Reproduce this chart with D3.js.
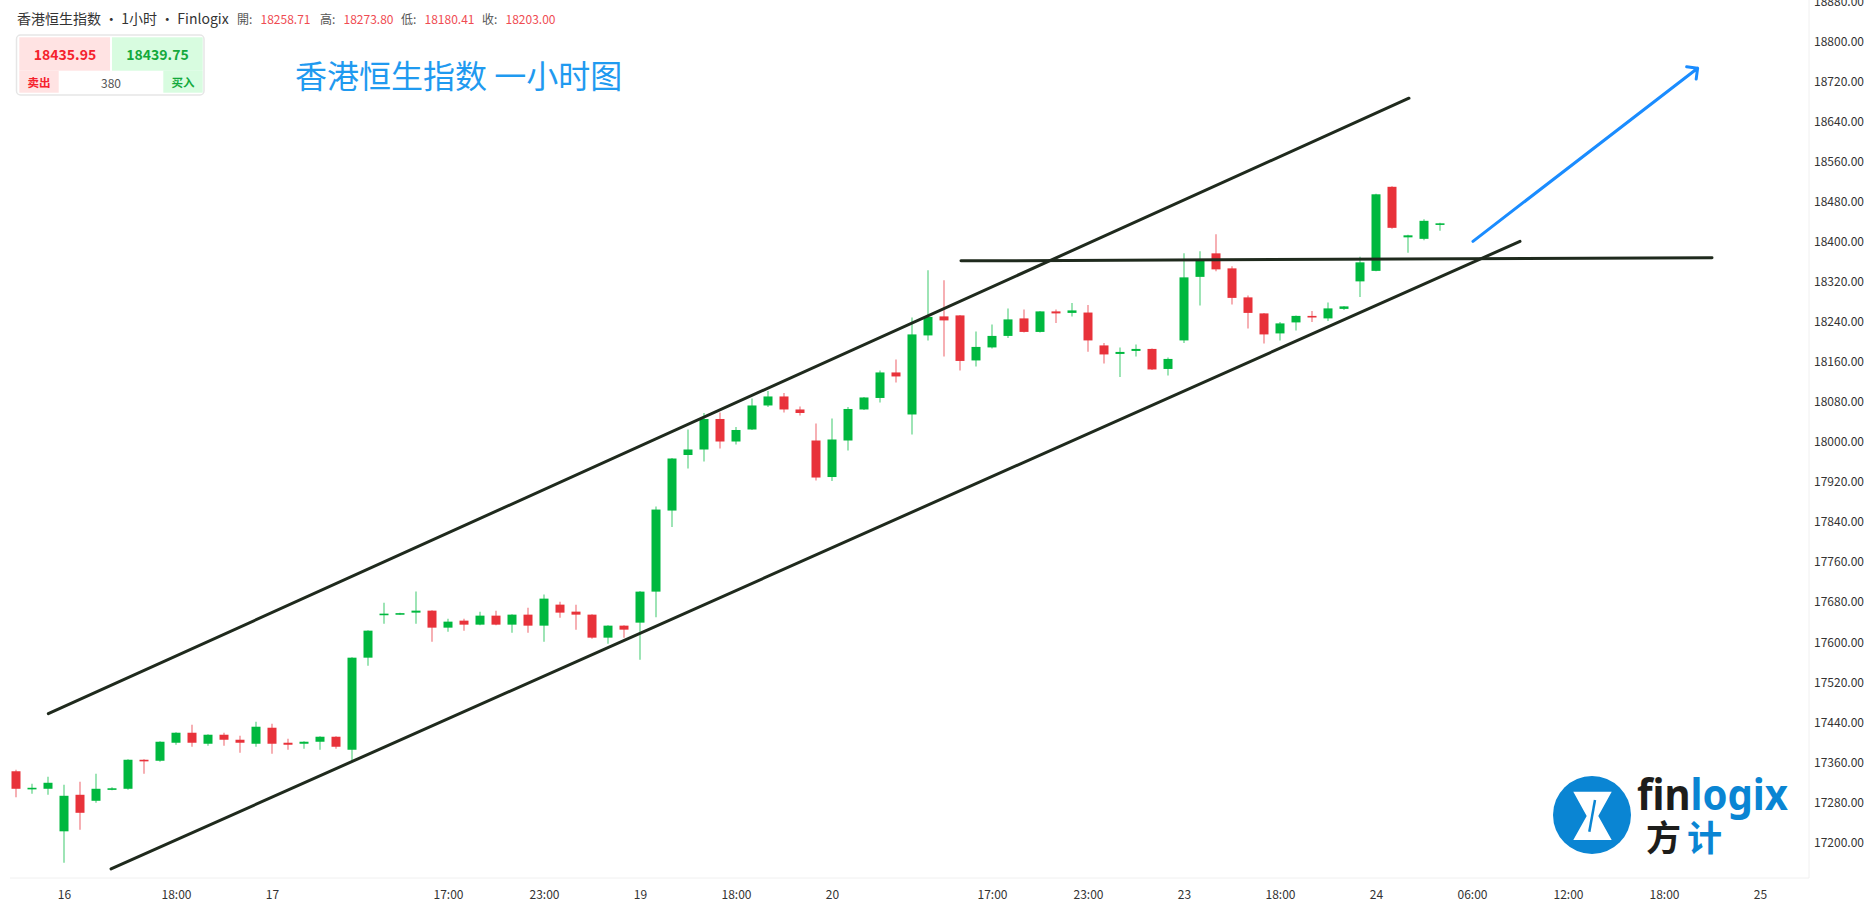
<!DOCTYPE html>
<html>
<head>
<meta charset="utf-8">
<script src="https://cdn.jsdelivr.net/npm/d3@7"></script>
<style>
  body { margin: 0; background: #fff; }
  text { font-family: "Noto Sans CJK SC", "Noto Sans", sans-serif; }
</style>
</head>
<body>
<div id="chart"></div>
<script>
// 1小时K线 (bar index 0..89)
const open = [17342,17306,17307,17222,17295,17283,17306,17307,17365,17363,
  17399,17419,17397,17415,17405,17397,17429,17399,17397,17401,
  17411,17385,17569,17655,17656,17659,17663,17629,17643,17635,
  17653,17635,17655,17633,17675,17661,17655,17609,17633,17639,
  17701,17863,17974,17985,18046,18001,18025,18073,18091,18065,
  18003,17930,18003,18065,18088,18139,18055,18213,18251,18253,
  18163,18189,18212,18247,18220,18261,18258,18258.71,18193,18176,
  18182,18186,18146,18203,18330,18377,18347,18289,18257,18217,
  18239,18252,18247,18266,18321,18342,18510,18409,18406,18434];
const high = [17345,17317,17331,17315,17321,17337,17310,17366,17366,17402,
  17420,17435,17416,17419,17413,17441,17437,17407,17402,17412,
  17412,17570,17624,17679,17659,17701,17664,17647,17647,17661,
  17663,17656,17669,17695,17681,17675,17656,17634,17634,17702,
  17871,17968,18025,18058,18059,18030,18087,18102,18098,18071,
  18037,18047,18070,18090,18143,18165,18249,18343,18323,18254,
  18221,18235,18267,18265,18262,18265,18278,18273.80,18198,18189,
  18195,18187,18169,18377,18381,18415,18351,18293,18258,18240,
  18253,18262,18279,18272,18370,18496,18511,18414,18445,18438];
const low = [17290,17297,17295,17159,17225,17279,17304,17305,17337,17361,
  17395,17391,17393,17393,17379,17391,17377,17385,17387,17385,
  17387,17363,17553,17637,17655,17637,17601,17621,17623,17634,
  17634,17619,17619,17601,17649,17625,17607,17597,17609,17565,
  17650,17830,17947,17961,17987,17995,18024,18070,18059,18053,
  17923,17922,17983,18064,18079,18119,18015,18203,18171,18143,
  18151,18187,18208,18219,18219,18238,18251,18180.41,18157,18130,
  18171,18144,18133,18198,18273,18341,18275,18227,18197,18203,
  18223,18240,18242,18264,18290,18341,18426,18378,18403,18422];
const close = [17307,17309,17319,17293,17259,17307,17308,17365,17363,17401,
  17419,17399,17415,17405,17399,17431,17397,17395,17401,17411,
  17391,17569,17623,17657,17658,17663,17629,17641,17635,17653,
  17635,17655,17633,17687,17659,17655,17609,17633,17625,17701,
  17865,17967,17985,18046,18001,18024,18073,18091,18065,18058,
  17929,18005,18066,18089,18139,18131,18215,18250,18243,18162,
  18190,18212,18245,18220,18261,18257,18263,18203.00,18175,18180,
  18186,18145,18166,18329,18363,18345,18288,18258,18215,18237,
  18252,18249,18267,18271,18359,18495,18428,18413,18442,18437];

const yTicks = d3.range(17200, 18881, 80);
const xTickIdx = [3, 10, 16, 27, 33, 39, 45, 51, 61, 67, 73, 79, 85, 91, 97, 103, 109];
const xTickLabels = ["16","18:00","17","17:00","23:00","19","18:00","20","17:00","23:00","23","18:00","24","06:00","12:00","18:00","25"];

// 画线 (bar index, price)
const channelUpper = [[2.02, 17457], [87.06, 18687]];
const channelLower = [[5.94, 17147], [94.0, 18401]];
const resistance = [[59.06, 18362], [106.0, 18368]];
const trendArrow = [[91.06, 18401], [105.1, 18747]];

const ohlcLabels = ["開:", "高:", "低:", "收:"];
const ohlcValues = ["18258.71", "18273.80", "18180.41", "18203.00"];
const bid = "18435.95", ask = "18439.75", spread = "380";

const width = 1872, height = 911;
const plot = { left: 10, right: 1809, top: 0, bottom: 878 };
const up = "#00b83f", down = "#e8323a";

const svg = d3.select("#chart").append("svg")
  .attr("width", width)
  .attr("height", height);

const x = d3.scaleLinear()
  .domain([-0.375, 112.0625])
  .range([plot.left, plot.right]);

const y = d3.scaleLinear()
  .domain([17128.7, 18883.3])
  .range([plot.bottom, plot.top]);

// 边框
svg.append("line")
  .attr("x1", plot.right).attr("x2", plot.right)
  .attr("y1", 0).attr("y2", plot.bottom)
  .attr("stroke", "#f0f0f0");
svg.append("line")
  .attr("x1", plot.left).attr("x2", plot.right)
  .attr("y1", plot.bottom).attr("y2", plot.bottom)
  .attr("stroke", "#f0f0f0");

const bars = d3.range(open.length).map(i => ({
  i, o: open[i], h: high[i], l: low[i], c: close[i]
}));

const g = svg.append("g");

g.selectAll("line.wick")
  .data(bars)
  .join("line")
  .attr("class", "wick")
  .attr("x1", d => x(d.i)).attr("x2", d => x(d.i))
  .attr("y1", d => y(d.h)).attr("y2", d => y(d.l))
  .attr("stroke", d => d.c >= d.o ? up : down)
  .attr("stroke-opacity", 0.55)
  .attr("stroke-width", 1.4);

g.selectAll("rect.body")
  .data(bars)
  .join("rect")
  .attr("class", "body")
  .attr("x", d => x(d.i) - 4.5)
  .attr("y", d => y(Math.max(d.o, d.c)))
  .attr("width", 9)
  .attr("height", d => Math.max(1.6, Math.abs(y(d.o) - y(d.c))))
  .attr("fill", d => d.c >= d.o ? up : down);

// 通道线
const drawLine = pts => svg.append("line")
  .attr("x1", x(pts[0][0])).attr("y1", y(pts[0][1]))
  .attr("x2", x(pts[1][0])).attr("y2", y(pts[1][1]))
  .attr("stroke", "#1f2a1d")
  .attr("stroke-width", 3)
  .attr("stroke-linecap", "round");

drawLine(channelUpper);
drawLine(channelLower);
drawLine(resistance);

// 蓝色箭头
const ax1 = x(trendArrow[0][0]), ay1 = y(trendArrow[0][1]);
const ax2 = x(trendArrow[1][0]), ay2 = y(trendArrow[1][1]);
const ang = Math.atan2(ay2 - ay1, ax2 - ax1);
const head = 11, spreadA = Math.PI / 4;
svg.append("path")
  .attr("d", `M${ax1},${ay1}L${ax2},${ay2}` +
    `M${ax2 + head * Math.cos(ang + Math.PI - spreadA)},${ay2 + head * Math.sin(ang + Math.PI - spreadA)}` +
    `L${ax2},${ay2}` +
    `L${ax2 + head * Math.cos(ang + Math.PI + spreadA)},${ay2 + head * Math.sin(ang + Math.PI + spreadA)}`)
  .attr("fill", "none")
  .attr("stroke", "#1a8cff")
  .attr("stroke-width", 3)
  .attr("stroke-linecap", "round")
  .attr("stroke-linejoin", "round");

// y轴
const yAxis = svg.append("g")
  .attr("transform", `translate(${plot.right},0)`)
  .call(d3.axisRight(y).tickValues(yTicks).tickFormat(d3.format(".2f")).tickSize(0).tickPadding(5));
yAxis.select(".domain").remove();
yAxis.selectAll("text")
  .attr("fill", "#333")
  .style("font-size", "12px")
  .style("font-family", "'Noto Sans CJK SC', 'Noto Sans', sans-serif");

// x轴
const xAxis = svg.append("g")
  .attr("transform", `translate(0,${plot.bottom})`)
  .call(d3.axisBottom(x).tickValues(xTickIdx)
    .tickFormat((d, k) => xTickLabels[k]).tickSize(0).tickPadding(12));
xAxis.select(".domain").remove();
xAxis.selectAll("text")
  .attr("fill", "#333")
  .style("font-size", "12px")
  .style("font-family", "'Noto Sans CJK SC', 'Noto Sans', sans-serif");

// 标题栏
svg.append("text")
  .attr("x", 17).attr("y", 24)
  .attr("fill", "#333")
  .style("font-size", "14px")
  .text("香港恒生指数 · 1小时 · Finlogix");

const ohlcX = [237, 320, 401, 482];
ohlcLabels.forEach((lab, k) => {
  svg.append("text")
    .attr("x", ohlcX[k]).attr("y", 23.5)
    .attr("fill", "#555")
    .style("font-size", "12px")
    .text(lab);
  svg.append("text")
    .attr("x", ohlcX[k] + 23.5).attr("y", 23.5)
    .attr("fill", "#ef4b52")
    .style("font-size", "12px")
    .text(ohlcValues[k]);
});

// 报价框
const box = svg.append("g");
box.append("rect")
  .attr("x", 16.5).attr("y", 35).attr("width", 187.5).attr("height", 60)
  .attr("rx", 4)
  .attr("fill", "#fff")
  .attr("stroke", "#e6e6e6")
  .attr("stroke-width", 1.5);
box.append("rect").attr("x", 19.3).attr("y", 37.3).attr("width", 90.7).attr("height", 33.4).attr("fill", "#ffe3e3");
box.append("rect").attr("x", 112).attr("y", 37.3).attr("width", 90.7).attr("height", 33.4).attr("fill", "#d8fce0");
box.append("rect").attr("x", 19.3).attr("y", 70.7).attr("width", 39.4).attr("height", 22).attr("fill", "#ffe3e3");
box.append("rect").attr("x", 163.3).attr("y", 70.7).attr("width", 39.4).attr("height", 22).attr("fill", "#d8fce0");

box.append("text").attr("x", 65).attr("y", 54).attr("text-anchor", "middle").attr("dominant-baseline", "central")
  .attr("fill", "#f5222d").style("font-size", "14px").style("font-weight", "bold").text(bid);
box.append("text").attr("x", 157.5).attr("y", 54).attr("text-anchor", "middle").attr("dominant-baseline", "central")
  .attr("fill", "#13a93c").style("font-size", "14px").style("font-weight", "bold").text(ask);
box.append("text").attr("x", 39).attr("y", 82).attr("text-anchor", "middle").attr("dominant-baseline", "central")
  .attr("fill", "#f5222d").style("font-size", "11.5px").style("font-weight", "bold").text("卖出");
box.append("text").attr("x", 111).attr("y", 82).attr("text-anchor", "middle").attr("dominant-baseline", "central")
  .attr("fill", "#555").style("font-size", "12px").text(spread);
box.append("text").attr("x", 183).attr("y", 82).attr("text-anchor", "middle").attr("dominant-baseline", "central")
  .attr("fill", "#13a93c").style("font-size", "11.5px").style("font-weight", "bold").text("买入");

// 大标题
svg.append("text")
  .attr("x", 295).attr("y", 74)
  .attr("dominant-baseline", "central")
  .attr("fill", "#1f9af0")
  .style("font-size", "32px")
  .text("香港恒生指数 一小时图");

// logo
const logo = svg.append("g").attr("transform", "translate(1592,815)");
logo.append("circle").attr("r", 39).attr("fill", "#0a85d3");
logo.append("path")
  .attr("d", "M-18.7,-23.3L19.7,-23.3L6.3,1L19.7,25L-18.7,25L-5.3,1Z")
  .attr("fill", "#fff");
logo.append("line")
  .attr("x1", 3).attr("y1", -15).attr("x2", -2.7).attr("y2", 16.7)
  .attr("stroke", "#0a85d3").attr("stroke-width", 2.5);

const word = svg.append("text")
  .attr("x", 1637).attr("y", 810)
  .attr("textLength", 151)
  .attr("lengthAdjust", "spacingAndGlyphs")
  .style("font-size", "43px")
  .style("font-weight", "bold")
  .style("font-family", "'Noto Sans', sans-serif");
word.append("tspan").attr("fill", "#1d1d1b").text("fin");
word.append("tspan").attr("fill", "#0a85d3").text("logix");

svg.append("text").attr("x", 1646).attr("y", 851)
  .attr("fill", "#1d1d1b").style("font-size", "35px").style("font-weight", "bold").text("方");
svg.append("text").attr("x", 1687).attr("y", 851)
  .attr("fill", "#0a85d3").style("font-size", "35px").style("font-weight", "bold").text("计");
</script>
</body>
</html>
